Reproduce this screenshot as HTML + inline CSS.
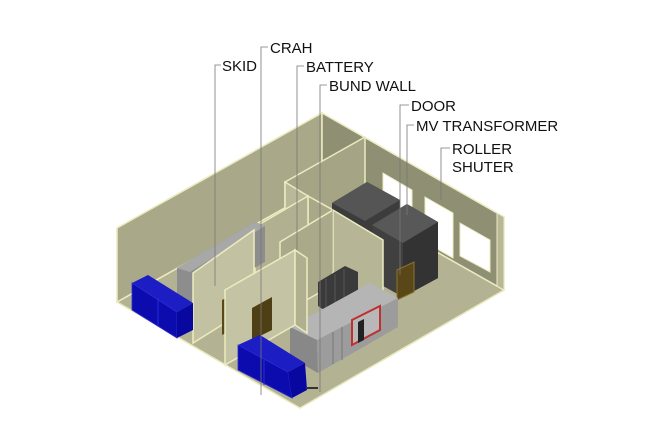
<!DOCTYPE html>
<html><head><meta charset="utf-8"><style>
html,body{margin:0;padding:0;background:#fff;}
svg{display:block;}
text{font-family:"Liberation Sans",Arial,sans-serif;font-size:15px;fill:#111;}
</style></head><body>
<svg width="670" height="446" viewBox="0 0 670 446" xmlns="http://www.w3.org/2000/svg">
<polygon points="117,302 322,187 504,290 300,408" fill="#b3b394" stroke="#e8e8bc" stroke-width="1.5"/>
<polygon points="117,228 322,113 322,187 117,302" fill="#a9a98a" stroke="#ecebc0" stroke-width="1.5"/>
<polygon points="322,113 504,217 504,290 322,187" fill="#8f8f74" stroke="#ecebc0" stroke-width="1.5"/>
<polygon points="383,173 412,190 412,225 383,208" fill="#fff" stroke="#ecebc0"/>
<polygon points="425,197 453,213 453,258 425,242" fill="#fff" stroke="#ecebc0"/>
<polygon points="460,223 490,240 490,272 460,256" fill="#fff" stroke="#ecebc0"/>
<polygon points="497,213 504,217 504,290 497,286" fill="#b8b898" stroke="#ecebc0"/>
<polygon points="285,182 365,137 365,215 285,260" fill="#a5a586" stroke="#ecebc0" stroke-width="1.5"/>
<polygon points="285,182 308,196 308,270 285,256" fill="#b9b999" stroke="#ecebc0" stroke-width="1.5"/>
<polygon points="308,196 333,210 333,285 308,270" fill="#a9a98a" stroke="#ecebc0" stroke-width="1.5"/>
<polygon points="255,227 308,196 308,270 255,300" fill="#b1b192" stroke="#ecebc0" stroke-width="1.5"/>
<polygon points="280,242 333,210 333,285 280,315" fill="#aaaa8b" stroke="#ecebc0" stroke-width="1.5"/>
<polygon points="332,203 367,182 400,200 400,270 367,252 332,272" fill="#3c3c3c"/>
<polygon points="332,203 367,182 400,200 365,221" fill="#555"/>
<polygon points="372,225 407,204 438,222 438,278 403,297 372,280" fill="#404040"/>
<polygon points="372,225 407,204 438,222 403,243" fill="#585858"/>
<polygon points="403,243 438,222 438,278 403,297" fill="#333"/>
<polygon points="333,210 383,240 383,300 333,285" fill="#b6b696" stroke="#ecebc0" stroke-width="1.5"/>
<polygon points="397,270 414,262 414,292 397,300" fill="#5a4718" stroke="#8a7530"/>
<polygon points="318,282 345,266 358,272 358,300 330,314 318,306" fill="#3a3a3a"/>
<line x1="326" y1="279" x2="326" y2="309" stroke="#555"/><line x1="335" y1="274" x2="335" y2="311" stroke="#555"/><line x1="344" y1="269" x2="344" y2="307" stroke="#555"/>
<polygon points="177,268 255,222 265,226 265,262 193,302 177,300" fill="#8d8d8d"/>
<polygon points="177,268 255,222 265,226 190,272" fill="#a8a8a8"/>
<polygon points="193,273 254,230 254,305 193,343" fill="#c2c2a2" stroke="#ecebc0" stroke-width="1.5"/>
<polygon points="222,300 226,298 226,333 222,335" fill="#5a4718"/>
<polygon points="132,283 148,275 193,303 177,312" fill="#1d1dc4"/>
<polygon points="132,283 177,312 177,338 132,310" fill="#0c0cae" stroke="#2a2ad8" stroke-width="0.8"/>
<line x1="158" y1="298" x2="158" y2="325" stroke="#2a2ad8"/>
<polygon points="177,312 193,303 193,330 177,338" fill="#0808a0"/>
<polygon points="290,327 370,283 398,298 317,340" fill="#b5b5b5"/>
<polygon points="290,327 317,340 318,373 290,357" fill="#888"/>
<polygon points="317,340 398,298 398,327 318,373" fill="#9c9c9c"/>
<polygon points="352,320 380,306 380,330 352,345" fill="#b8b8b8" stroke="#c03030" stroke-width="2"/>
<polygon points="358,322 364,319 364,340 358,343" fill="#222"/>
<line x1="333" y1="332" x2="333" y2="364" stroke="#777"/><line x1="342" y1="327" x2="342" y2="360" stroke="#777"/>
<polygon points="225,290 295,250 295,325 225,365" fill="#c4c4a4" stroke="#ecebc0" stroke-width="1.5"/>
<polygon points="295,250 307,258 307,333 295,325" fill="#b0b090" stroke="#ecebc0" stroke-width="1.5"/>
<polygon points="252,308 272,297 272,330 252,340" fill="#4f3f14"/>
<polygon points="238,345 260,335 305,363 288,372" fill="#1d1dc4"/>
<polygon points="238,345 288,372 292,398 238,370" fill="#0c0cae" stroke="#2a2ad8" stroke-width="0.8"/>
<line x1="264" y1="359" x2="264" y2="385" stroke="#2a2ad8"/>
<polygon points="288,372 305,363 307,390 292,398" fill="#0808a0"/>
<line x1="307" y1="388" x2="318" y2="388" stroke="#333" stroke-width="2"/>
<g stroke="#777" stroke-width="0.8" fill="none">
<polyline points="221,65 215,65 215,286"/>
<polyline points="268,47 261,47 261,395"/>
<polyline points="304,66 297,66 297,250"/>
<polyline points="327,85 320,85 320,392"/>
<polyline points="409,105 400,105 400,275"/>
<polyline points="414,125 407,125 407,215"/>
<polyline points="450,148 441,148 441,200"/>
</g>
<text x="222" y="71">SKID</text>
<text x="270" y="53">CRAH</text>
<text x="306" y="72">BATTERY</text>
<text x="329" y="91">BUND WALL</text>
<text x="411" y="111">DOOR</text>
<text x="416" y="131">MV TRANSFORMER</text>
<text x="452" y="154">ROLLER</text>
<text x="452" y="172">SHUTER</text>
</svg>
</body></html>
